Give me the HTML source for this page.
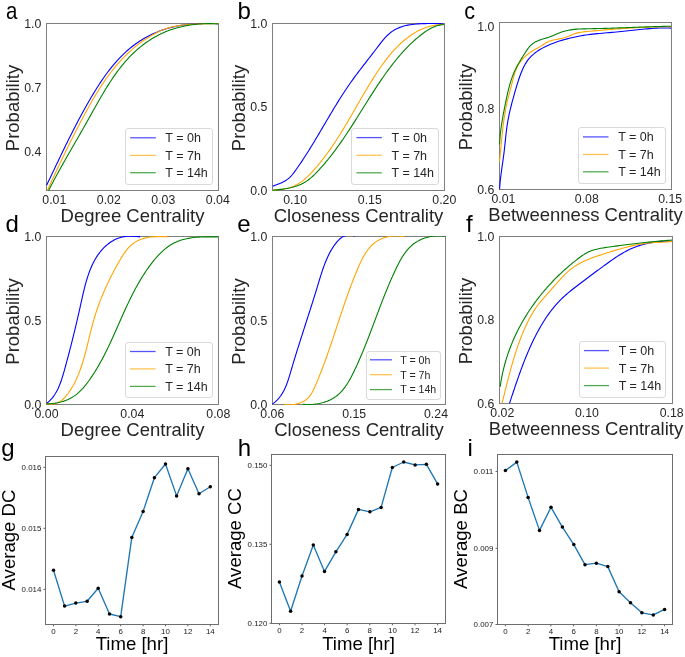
<!DOCTYPE html>
<html><head><meta charset="utf-8"><style>html,body{margin:0;padding:0;background:#fff;width:685px;height:657px;overflow:hidden}</style></head>
<body>
<svg width="685" height="657" viewBox="0 0 685 657" style="display:block;will-change:transform">
<rect width="685" height="657" fill="#ffffff"/>
<g font-family='"Liberation Sans", sans-serif'>
<rect x="46.5" y="23.5" width="172" height="167" fill="none" stroke="#7f7f7f" stroke-width="1"/>
<rect x="272.5" y="23.5" width="172" height="167" fill="none" stroke="#7f7f7f" stroke-width="1"/>
<rect x="499.5" y="22.5" width="172" height="167" fill="none" stroke="#7f7f7f" stroke-width="1"/>
<rect x="46.5" y="236.5" width="172" height="168" fill="none" stroke="#7f7f7f" stroke-width="1"/>
<rect x="272.5" y="236.5" width="173" height="168" fill="none" stroke="#7f7f7f" stroke-width="1"/>
<rect x="499.5" y="236.5" width="173" height="167" fill="none" stroke="#7f7f7f" stroke-width="1"/>
<clipPath id="clipa"><rect x="46" y="23" width="173" height="168"/></clipPath>
<clipPath id="clipb"><rect x="272" y="23" width="173" height="168"/></clipPath>
<clipPath id="clipc"><rect x="499" y="22" width="173" height="168"/></clipPath>
<clipPath id="clipd"><rect x="46" y="236" width="173" height="169"/></clipPath>
<clipPath id="clipe"><rect x="272" y="236" width="174" height="169"/></clipPath>
<clipPath id="clipf"><rect x="499" y="236" width="174" height="168"/></clipPath>
<g clip-path="url(#clipa)" fill="none" stroke-width="1.1" stroke-linejoin="round">
<path d="M46.63,185.27 L47.56,183.32 L48.49,181.36 L49.42,179.41 L50.35,177.46 L51.27,175.51 L52.20,173.56 L53.12,171.62 L54.04,169.68 L54.96,167.74 L55.89,165.80 L56.81,163.86 L57.73,161.93 L58.65,159.99 L59.58,158.06 L60.50,156.13 L61.43,154.21 L62.36,152.28 L63.29,150.36 L64.22,148.44 L65.16,146.52 L66.09,144.60 L67.04,142.69 L67.98,140.77 L68.93,138.86 L69.88,136.95 L70.84,135.04 L71.80,133.14 L72.76,131.24 L73.73,129.33 L74.71,127.44 L75.69,125.54 L76.67,123.64 L77.66,121.75 L78.66,119.86 L79.67,117.97 L80.68,116.08 L81.70,114.20 L82.72,112.32 L83.75,110.44 L84.79,108.56 L85.84,106.68 L86.90,104.81 L87.96,102.94 L89.04,101.07 L90.12,99.20 L91.21,97.33 L92.32,95.47 L93.43,93.61 L94.55,91.76 L95.69,89.92 L96.84,88.08 L98.00,86.25 L99.17,84.43 L100.36,82.62 L101.57,80.82 L102.78,79.03 L104.02,77.26 L105.27,75.50 L106.54,73.75 L107.82,72.02 L109.12,70.31 L110.45,68.62 L111.79,66.94 L113.15,65.29 L114.53,63.65 L115.93,62.04 L117.35,60.45 L118.80,58.88 L120.27,57.34 L121.76,55.82 L123.27,54.33 L124.81,52.86 L126.38,51.43 L127.97,50.02 L129.58,48.64 L131.22,47.30 L132.89,45.99 L134.59,44.71 L136.32,43.46 L138.07,42.25 L139.84,41.07 L141.65,39.93 L143.47,38.82 L145.32,37.75 L147.19,36.72 L149.09,35.73 L151.00,34.77 L152.94,33.86 L154.89,32.98 L156.86,32.14 L158.85,31.34 L160.85,30.59 L162.87,29.87 L164.90,29.20 L166.95,28.57 L169.01,27.98 L171.09,27.43 L173.17,26.93 L175.26,26.46 L177.37,26.03 L179.48,25.64 L181.60,25.28 L183.73,24.96 L185.86,24.67 L188.00,24.42 L190.14,24.20 L192.28,24.01 L194.43,23.84 L196.58,23.71 L198.73,23.60 L200.88,23.53 L203.03,23.47 L205.18,23.44 L207.32,23.44 L209.47,23.45 L211.60,23.49 L213.73,23.55 L215.86,23.63 L217.98,23.72" stroke="#0000ff"/>
<path d="M47.52,190.25 L48.42,188.26 L49.32,186.28 L50.22,184.30 L51.12,182.32 L52.03,180.34 L52.94,178.37 L53.85,176.40 L54.76,174.43 L55.67,172.47 L56.59,170.50 L57.51,168.55 L58.43,166.59 L59.35,164.64 L60.27,162.69 L61.20,160.74 L62.13,158.79 L63.07,156.84 L64.01,154.90 L64.95,152.96 L65.89,151.02 L66.84,149.08 L67.79,147.15 L68.75,145.21 L69.70,143.28 L70.67,141.35 L71.63,139.42 L72.60,137.49 L73.58,135.56 L74.56,133.63 L75.54,131.71 L76.53,129.78 L77.52,127.86 L78.52,125.93 L79.52,124.01 L80.53,122.08 L81.54,120.16 L82.56,118.24 L83.58,116.31 L84.61,114.39 L85.64,112.47 L86.69,110.56 L87.74,108.64 L88.79,106.73 L89.86,104.83 L90.94,102.93 L92.02,101.04 L93.12,99.15 L94.23,97.27 L95.35,95.39 L96.48,93.53 L97.62,91.67 L98.77,89.82 L99.94,87.99 L101.12,86.16 L102.32,84.34 L103.53,82.54 L104.75,80.75 L105.99,78.97 L107.25,77.20 L108.52,75.45 L109.81,73.72 L111.12,72.00 L112.45,70.29 L113.79,68.60 L115.16,66.93 L116.54,65.28 L117.94,63.64 L119.37,62.03 L120.82,60.43 L122.28,58.85 L123.77,57.30 L125.28,55.77 L126.82,54.25 L128.38,52.77 L129.96,51.30 L131.57,49.86 L133.20,48.44 L134.86,47.06 L136.54,45.69 L138.24,44.36 L139.98,43.06 L141.73,41.79 L143.52,40.55 L145.33,39.35 L147.16,38.18 L149.01,37.03 L150.87,35.90 L152.75,34.80 L154.64,33.74 L156.54,32.71 L158.47,31.75 L160.43,30.84 L162.40,30.00 L164.41,29.23 L166.43,28.52 L168.48,27.89 L170.54,27.31 L172.63,26.79 L174.73,26.34 L176.85,25.93 L178.98,25.57 L181.13,25.26 L183.28,24.99 L185.45,24.76 L187.62,24.56 L189.80,24.40 L191.98,24.26 L194.17,24.15 L196.36,24.05 L198.54,23.98 L200.73,23.91 L202.91,23.86 L205.09,23.81 L207.26,23.77 L209.42,23.72 L211.58,23.67 L213.72,23.61 L215.85,23.54 L217.96,23.46" stroke="#ffa500"/>
<path d="M48.52,190.57 L49.51,188.64 L50.51,186.71 L51.52,184.80 L52.52,182.89 L53.54,180.99 L54.55,179.09 L55.57,177.20 L56.59,175.32 L57.62,173.45 L58.65,171.58 L59.68,169.71 L60.72,167.85 L61.75,165.99 L62.79,164.14 L63.84,162.29 L64.88,160.45 L65.93,158.60 L66.97,156.76 L68.02,154.92 L69.07,153.09 L70.13,151.25 L71.18,149.41 L72.23,147.58 L73.29,145.75 L74.35,143.91 L75.40,142.08 L76.46,140.24 L77.52,138.40 L78.57,136.56 L79.63,134.72 L80.69,132.88 L81.74,131.03 L82.80,129.18 L83.85,127.33 L84.91,125.47 L85.96,123.61 L87.01,121.75 L88.06,119.88 L89.11,118.00 L90.16,116.12 L91.21,114.24 L92.26,112.35 L93.31,110.47 L94.37,108.58 L95.42,106.69 L96.48,104.80 L97.55,102.92 L98.62,101.03 L99.70,99.15 L100.78,97.28 L101.87,95.41 L102.97,93.54 L104.08,91.68 L105.20,89.83 L106.33,87.99 L107.47,86.16 L108.62,84.34 L109.78,82.53 L110.96,80.73 L112.16,78.94 L113.36,77.16 L114.59,75.41 L115.83,73.66 L117.08,71.93 L118.36,70.22 L119.65,68.53 L120.97,66.85 L122.30,65.20 L123.65,63.56 L125.03,61.95 L126.43,60.36 L127.85,58.79 L129.29,57.24 L130.76,55.72 L132.26,54.22 L133.78,52.75 L135.32,51.31 L136.90,49.90 L138.50,48.51 L140.12,47.15 L141.77,45.83 L143.45,44.54 L145.15,43.27 L146.88,42.05 L148.63,40.86 L150.40,39.70 L152.20,38.58 L154.02,37.49 L155.86,36.45 L157.73,35.44 L159.62,34.48 L161.53,33.55 L163.46,32.67 L165.41,31.83 L167.39,31.04 L169.38,30.29 L171.39,29.58 L173.43,28.92 L175.47,28.29 L177.54,27.71 L179.61,27.17 L181.70,26.67 L183.81,26.21 L185.92,25.79 L188.04,25.41 L190.17,25.07 L192.31,24.76 L194.46,24.49 L196.61,24.26 L198.76,24.07 L200.92,23.91 L203.07,23.79 L205.23,23.70 L207.39,23.65 L209.54,23.63 L211.69,23.64 L213.84,23.68 L215.98,23.76 L218.11,23.87" stroke="#008000"/>
</g>
<g clip-path="url(#clipb)" fill="none" stroke-width="1.1" stroke-linejoin="round">
<path d="M272.67,186.27 L274.49,185.50 L276.44,184.75 L278.45,183.97 L280.50,183.16 L282.52,182.27 L284.48,181.28 L286.32,180.17 L288.01,178.92 L289.58,177.55 L291.04,176.07 L292.41,174.50 L293.72,172.87 L294.97,171.19 L296.19,169.49 L297.40,167.77 L298.60,166.05 L299.79,164.31 L300.97,162.57 L302.14,160.82 L303.30,159.07 L304.46,157.30 L305.60,155.53 L306.74,153.75 L307.86,151.97 L308.99,150.18 L310.10,148.38 L311.21,146.58 L312.32,144.78 L313.42,142.97 L314.51,141.16 L315.60,139.34 L316.69,137.52 L317.78,135.70 L318.86,133.88 L319.94,132.05 L321.02,130.23 L322.09,128.40 L323.17,126.57 L324.25,124.74 L325.32,122.91 L326.40,121.08 L327.48,119.26 L328.56,117.43 L329.64,115.61 L330.72,113.78 L331.81,111.96 L332.90,110.15 L334.00,108.33 L335.09,106.52 L336.20,104.71 L337.31,102.91 L338.42,101.12 L339.54,99.32 L340.67,97.54 L341.80,95.76 L342.94,93.98 L344.09,92.21 L345.25,90.45 L346.42,88.70 L347.60,86.95 L348.78,85.22 L349.98,83.49 L351.19,81.77 L352.41,80.06 L353.64,78.36 L354.88,76.66 L356.13,74.98 L357.39,73.30 L358.66,71.63 L359.94,69.96 L361.23,68.29 L362.52,66.63 L363.81,64.96 L365.11,63.30 L366.41,61.63 L367.72,59.95 L369.02,58.28 L370.33,56.59 L371.64,54.90 L372.94,53.20 L374.25,51.49 L375.55,49.77 L376.85,48.04 L378.15,46.31 L379.46,44.59 L380.79,42.88 L382.13,41.21 L383.50,39.57 L384.91,37.98 L386.35,36.45 L387.83,34.99 L389.36,33.60 L390.95,32.30 L392.60,31.10 L394.31,30.01 L396.09,29.03 L397.93,28.15 L399.83,27.37 L401.78,26.68 L403.78,26.08 L405.83,25.56 L407.90,25.12 L410.01,24.74 L412.15,24.43 L414.31,24.18 L416.48,23.98 L418.67,23.83 L420.86,23.72 L423.06,23.64 L425.25,23.59 L427.43,23.57 L429.59,23.56 L431.74,23.56 L433.87,23.57 L435.96,23.58 L438.02,23.58 L440.04,23.57 L442.02,23.55 L443.94,23.50" stroke="#0000ff"/>
<path d="M272.60,190.29 L274.60,190.05 L276.65,189.82 L278.75,189.60 L280.88,189.36 L283.03,189.08 L285.16,188.74 L287.28,188.32 L289.35,187.80 L291.36,187.16 L293.31,186.41 L295.20,185.55 L297.03,184.59 L298.81,183.53 L300.54,182.39 L302.22,181.16 L303.86,179.87 L305.46,178.51 L307.02,177.10 L308.54,175.64 L310.04,174.13 L311.50,172.60 L312.94,171.03 L314.36,169.46 L315.75,167.86 L317.13,166.26 L318.49,164.64 L319.82,163.02 L321.14,161.38 L322.44,159.73 L323.73,158.07 L325.00,156.41 L326.25,154.73 L327.49,153.04 L328.71,151.34 L329.92,149.64 L331.12,147.92 L332.30,146.20 L333.47,144.47 L334.63,142.73 L335.78,140.99 L336.92,139.24 L338.05,137.48 L339.17,135.71 L340.28,133.94 L341.38,132.17 L342.47,130.39 L343.56,128.60 L344.64,126.81 L345.72,125.01 L346.79,123.22 L347.85,121.41 L348.91,119.61 L349.97,117.80 L351.02,115.98 L352.08,114.17 L353.13,112.35 L354.18,110.53 L355.23,108.71 L356.27,106.89 L357.32,105.07 L358.37,103.25 L359.43,101.42 L360.48,99.60 L361.54,97.78 L362.60,95.95 L363.67,94.13 L364.74,92.31 L365.81,90.50 L366.89,88.68 L367.98,86.86 L369.07,85.05 L370.18,83.24 L371.29,81.44 L372.41,79.64 L373.53,77.84 L374.67,76.05 L375.82,74.26 L376.98,72.48 L378.16,70.71 L379.35,68.95 L380.55,67.21 L381.77,65.47 L383.00,63.75 L384.25,62.05 L385.52,60.36 L386.81,58.69 L388.11,57.04 L389.44,55.41 L390.79,53.80 L392.16,52.22 L393.55,50.66 L394.97,49.13 L396.41,47.62 L397.87,46.14 L399.36,44.69 L400.88,43.27 L402.43,41.89 L404.01,40.54 L405.61,39.22 L407.25,37.94 L408.91,36.69 L410.61,35.49 L412.34,34.32 L414.11,33.20 L415.90,32.12 L417.73,31.10 L419.60,30.14 L421.50,29.24 L423.43,28.42 L425.39,27.67 L427.39,27.01 L429.42,26.43 L431.48,25.96 L433.57,25.56 L435.67,25.23 L437.78,24.94 L439.88,24.65 L441.97,24.36 L444.04,24.03" stroke="#ffa500"/>
<path d="M272.56,190.27 L274.59,190.07 L276.64,189.85 L278.72,189.63 L280.82,189.37 L282.92,189.10 L285.02,188.78 L287.12,188.42 L289.21,188.02 L291.28,187.56 L293.33,187.04 L295.35,186.45 L297.34,185.79 L299.28,185.05 L301.18,184.22 L303.02,183.29 L304.80,182.27 L306.53,181.16 L308.21,179.96 L309.84,178.70 L311.43,177.36 L312.97,175.98 L314.49,174.54 L315.97,173.06 L317.42,171.56 L318.85,170.03 L320.26,168.48 L321.66,166.93 L323.04,165.36 L324.40,163.78 L325.74,162.19 L327.07,160.59 L328.39,158.98 L329.69,157.36 L330.98,155.73 L332.25,154.09 L333.51,152.44 L334.76,150.78 L335.99,149.12 L337.22,147.44 L338.43,145.76 L339.64,144.07 L340.83,142.38 L342.01,140.67 L343.19,138.96 L344.35,137.25 L345.51,135.53 L346.67,133.80 L347.81,132.07 L348.95,130.33 L350.08,128.59 L351.21,126.85 L352.33,125.10 L353.45,123.35 L354.57,121.59 L355.68,119.84 L356.79,118.08 L357.90,116.32 L359.00,114.55 L360.11,112.79 L361.21,111.02 L362.31,109.25 L363.42,107.49 L364.52,105.72 L365.63,103.95 L366.74,102.18 L367.85,100.42 L368.96,98.65 L370.08,96.89 L371.20,95.13 L372.33,93.37 L373.46,91.61 L374.59,89.86 L375.73,88.11 L376.88,86.36 L378.04,84.62 L379.20,82.88 L380.37,81.14 L381.55,79.41 L382.74,77.69 L383.94,75.97 L385.15,74.26 L386.37,72.55 L387.60,70.86 L388.84,69.17 L390.09,67.49 L391.36,65.82 L392.64,64.17 L393.93,62.52 L395.23,60.89 L396.55,59.27 L397.88,57.67 L399.23,56.08 L400.59,54.50 L401.97,52.94 L403.37,51.40 L404.78,49.88 L406.20,48.37 L407.65,46.89 L409.11,45.42 L410.59,43.98 L412.09,42.55 L413.61,41.15 L415.15,39.77 L416.71,38.41 L418.29,37.08 L419.89,35.77 L421.51,34.49 L423.16,33.23 L424.83,32.02 L426.53,30.86 L428.28,29.76 L430.06,28.73 L431.89,27.79 L433.77,26.94 L435.70,26.20 L437.70,25.58 L439.76,25.09 L441.88,24.73 L444.09,24.53" stroke="#008000"/>
</g>
<g clip-path="url(#clipc)" fill="none" stroke-width="1.1" stroke-linejoin="round">
<path d="M499.59,189.30 L499.74,186.92 L499.92,184.54 L500.14,182.16 L500.38,179.79 L500.65,177.43 L500.94,175.07 L501.25,172.71 L501.56,170.35 L501.89,168.00 L502.23,165.64 L502.57,163.29 L502.90,160.93 L503.23,158.57 L503.55,156.21 L503.86,153.85 L504.16,151.48 L504.43,149.11 L504.69,146.74 L504.94,144.36 L505.19,141.98 L505.44,139.61 L505.69,137.23 L505.94,134.86 L506.21,132.48 L506.50,130.12 L506.81,127.76 L507.14,125.40 L507.51,123.05 L507.91,120.71 L508.34,118.38 L508.80,116.05 L509.29,113.73 L509.81,111.42 L510.35,109.11 L510.92,106.81 L511.50,104.50 L512.10,102.21 L512.72,99.91 L513.35,97.61 L513.99,95.32 L514.64,93.02 L515.30,90.72 L515.97,88.43 L516.64,86.13 L517.34,83.83 L518.06,81.54 L518.80,79.26 L519.58,76.99 L520.40,74.72 L521.27,72.47 L522.19,70.24 L523.17,68.06 L524.24,65.92 L525.39,63.84 L526.63,61.84 L527.98,59.93 L529.45,58.12 L531.04,56.42 L532.74,54.81 L534.54,53.31 L536.42,51.89 L538.38,50.56 L540.41,49.30 L542.50,48.12 L544.63,47.02 L546.79,45.97 L548.98,44.99 L551.19,44.06 L553.42,43.18 L555.66,42.35 L557.92,41.57 L560.20,40.84 L562.48,40.15 L564.78,39.49 L567.08,38.87 L569.39,38.29 L571.70,37.73 L574.02,37.21 L576.34,36.71 L578.66,36.24 L580.99,35.81 L583.32,35.41 L585.66,35.04 L588.00,34.70 L590.36,34.40 L592.72,34.12 L595.08,33.88 L597.45,33.65 L599.83,33.43 L602.20,33.23 L604.58,33.03 L606.95,32.82 L609.32,32.62 L611.70,32.40 L614.07,32.19 L616.44,31.97 L618.81,31.74 L621.17,31.51 L623.54,31.28 L625.91,31.04 L628.28,30.80 L630.64,30.55 L633.01,30.30 L635.38,30.04 L637.75,29.79 L640.11,29.54 L642.48,29.29 L644.85,29.05 L647.22,28.83 L649.59,28.63 L651.96,28.44 L654.34,28.28 L656.71,28.15 L659.09,28.05 L661.47,27.99 L663.85,27.96 L666.23,27.98 L668.61,28.05 L671.00,28.16" stroke="#0000ff"/>
<path d="M499.50,161.49 L499.73,159.32 L499.96,157.15 L500.18,154.97 L500.40,152.79 L500.61,150.60 L500.82,148.41 L501.02,146.22 L501.23,144.02 L501.44,141.82 L501.65,139.62 L501.87,137.42 L502.09,135.22 L502.32,133.02 L502.56,130.83 L502.80,128.63 L503.06,126.43 L503.33,124.24 L503.62,122.05 L503.92,119.87 L504.23,117.68 L504.57,115.51 L504.92,113.34 L505.29,111.17 L505.69,109.01 L506.11,106.86 L506.55,104.72 L507.02,102.58 L507.52,100.45 L508.04,98.33 L508.58,96.21 L509.13,94.09 L509.70,91.98 L510.26,89.85 L510.83,87.72 L511.39,85.57 L511.95,83.41 L512.49,81.24 L513.04,79.07 L513.62,76.91 L514.23,74.76 L514.91,72.64 L515.65,70.57 L516.48,68.54 L517.41,66.56 L518.46,64.66 L519.62,62.83 L520.90,61.08 L522.29,59.40 L523.77,57.80 L525.33,56.27 L526.98,54.83 L528.71,53.46 L530.50,52.17 L532.35,50.96 L534.25,49.83 L536.19,48.76 L538.13,47.71 L540.06,46.64 L541.95,45.52 L543.79,44.30 L545.61,43.09 L547.47,42.01 L549.43,41.15 L551.48,40.48 L553.58,39.95 L555.73,39.51 L557.90,39.12 L560.07,38.72 L562.24,38.28 L564.37,37.73 L566.46,37.05 L568.51,36.25 L570.54,35.40 L572.57,34.56 L574.62,33.79 L576.70,33.14 L578.83,32.64 L580.98,32.24 L583.15,31.92 L585.34,31.66 L587.54,31.44 L589.74,31.23 L591.93,31.03 L594.13,30.83 L596.33,30.63 L598.52,30.43 L600.72,30.24 L602.91,30.05 L605.10,29.87 L607.29,29.69 L609.49,29.51 L611.68,29.34 L613.87,29.17 L616.06,29.01 L618.25,28.85 L620.44,28.70 L622.63,28.55 L624.82,28.40 L627.02,28.26 L629.21,28.13 L631.40,28.00 L633.59,27.87 L635.79,27.75 L637.98,27.64 L640.17,27.53 L642.37,27.43 L644.56,27.33 L646.76,27.24 L648.96,27.15 L651.16,27.07 L653.36,27.00 L655.56,26.93 L657.76,26.87 L659.97,26.82 L662.17,26.77 L664.38,26.73 L666.59,26.69 L668.80,26.67 L671.01,26.64" stroke="#ffa500"/>
<path d="M499.55,144.53 L499.66,142.40 L499.79,140.29 L499.95,138.18 L500.13,136.08 L500.34,133.99 L500.57,131.91 L500.83,129.84 L501.10,127.77 L501.39,125.71 L501.70,123.65 L502.03,121.59 L502.37,119.54 L502.73,117.49 L503.10,115.44 L503.48,113.39 L503.87,111.33 L504.27,109.28 L504.67,107.23 L505.08,105.17 L505.50,103.10 L505.92,101.04 L506.35,98.97 L506.79,96.90 L507.24,94.83 L507.70,92.77 L508.19,90.71 L508.70,88.66 L509.23,86.62 L509.79,84.59 L510.38,82.57 L511.00,80.57 L511.66,78.59 L512.36,76.62 L513.10,74.68 L513.88,72.76 L514.72,70.86 L515.60,68.99 L516.54,67.15 L517.52,65.33 L518.54,63.52 L519.59,61.72 L520.68,59.93 L521.78,58.13 L522.90,56.33 L524.04,54.52 L525.19,52.70 L526.37,50.90 L527.59,49.14 L528.88,47.47 L530.25,45.90 L531.72,44.46 L533.31,43.19 L535.03,42.11 L536.86,41.18 L538.77,40.39 L540.73,39.70 L542.73,39.08 L544.74,38.49 L546.74,37.88 L548.72,37.20 L550.69,36.46 L552.65,35.69 L554.60,34.89 L556.54,34.08 L558.49,33.30 L560.45,32.55 L562.41,31.85 L564.40,31.22 L566.40,30.68 L568.42,30.24 L570.47,29.87 L572.52,29.58 L574.59,29.35 L576.68,29.17 L578.77,29.04 L580.87,28.95 L582.98,28.88 L585.09,28.83 L587.20,28.79 L589.30,28.75 L591.41,28.71 L593.52,28.67 L595.62,28.62 L597.72,28.57 L599.82,28.51 L601.92,28.45 L604.02,28.39 L606.11,28.33 L608.21,28.26 L610.30,28.19 L612.39,28.13 L614.48,28.05 L616.57,27.98 L618.66,27.91 L620.75,27.83 L622.84,27.76 L624.93,27.68 L627.02,27.60 L629.11,27.53 L631.19,27.45 L633.28,27.37 L635.37,27.29 L637.46,27.22 L639.55,27.14 L641.64,27.07 L643.73,26.99 L645.82,26.92 L647.91,26.85 L650.01,26.78 L652.10,26.72 L654.20,26.65 L656.29,26.59 L658.39,26.53 L660.49,26.47 L662.59,26.42 L664.69,26.37 L666.80,26.32 L668.91,26.27 L671.01,26.23" stroke="#008000"/>
</g>
<g clip-path="url(#clipd)" fill="none" stroke-width="1.1" stroke-linejoin="round">
<path d="M46.33,403.65 L47.73,402.55 L49.06,401.38 L50.30,400.16 L51.48,398.89 L52.58,397.57 L53.63,396.20 L54.61,394.79 L55.53,393.33 L56.40,391.84 L57.22,390.32 L57.99,388.76 L58.71,387.17 L59.40,385.56 L60.05,383.92 L60.67,382.27 L61.26,380.59 L61.82,378.91 L62.35,377.21 L62.87,375.50 L63.37,373.79 L63.87,372.08 L64.35,370.37 L64.82,368.66 L65.29,366.96 L65.76,365.26 L66.22,363.57 L66.68,361.88 L67.14,360.20 L67.59,358.51 L68.04,356.84 L68.48,355.16 L68.92,353.49 L69.36,351.81 L69.79,350.14 L70.23,348.48 L70.65,346.81 L71.08,345.14 L71.50,343.48 L71.92,341.81 L72.34,340.15 L72.75,338.48 L73.16,336.82 L73.57,335.15 L73.98,333.48 L74.39,331.81 L74.79,330.14 L75.19,328.47 L75.59,326.79 L75.99,325.11 L76.39,323.43 L76.78,321.75 L77.17,320.06 L77.57,318.36 L77.96,316.67 L78.35,314.97 L78.74,313.26 L79.12,311.55 L79.51,309.83 L79.90,308.11 L80.28,306.38 L80.67,304.65 L81.05,302.91 L81.44,301.16 L81.83,299.41 L82.22,297.65 L82.62,295.90 L83.02,294.14 L83.43,292.38 L83.85,290.63 L84.27,288.88 L84.71,287.13 L85.17,285.38 L85.63,283.65 L86.11,281.92 L86.61,280.20 L87.13,278.49 L87.66,276.80 L88.22,275.11 L88.80,273.44 L89.40,271.79 L90.02,270.15 L90.68,268.53 L91.35,266.93 L92.06,265.34 L92.80,263.78 L93.57,262.25 L94.37,260.73 L95.20,259.25 L96.07,257.78 L96.98,256.35 L97.92,254.94 L98.91,253.57 L99.93,252.23 L100.99,250.91 L102.10,249.64 L103.26,248.39 L104.45,247.19 L105.70,246.02 L106.99,244.89 L108.33,243.81 L109.71,242.79 L111.13,241.82 L112.59,240.91 L114.10,240.06 L115.64,239.29 L117.23,238.59 L118.85,237.97 L120.50,237.43 L122.19,236.98 L123.92,236.63 L125.68,236.38 L127.47,236.22 L129.28,236.16 L131.10,236.17 L132.93,236.25 L134.76,236.36 L136.57,236.51 L138.36,236.67 L140.12,236.84" stroke="#0000ff"/>
<path d="M46.19,403.48 L48.50,403.92 L50.68,404.11 L52.74,404.05 L54.68,403.76 L56.50,403.26 L58.22,402.57 L59.82,401.70 L61.33,400.68 L62.75,399.52 L64.08,398.25 L65.34,396.89 L66.54,395.45 L67.68,393.97 L68.78,392.46 L69.84,390.92 L70.86,389.36 L71.84,387.78 L72.79,386.17 L73.69,384.55 L74.57,382.90 L75.41,381.23 L76.22,379.55 L76.99,377.84 L77.74,376.12 L78.47,374.39 L79.16,372.63 L79.83,370.87 L80.48,369.09 L81.11,367.29 L81.71,365.49 L82.30,363.67 L82.86,361.84 L83.42,360.00 L83.95,358.16 L84.47,356.30 L84.98,354.44 L85.48,352.58 L85.97,350.70 L86.45,348.83 L86.92,346.95 L87.39,345.06 L87.85,343.18 L88.31,341.29 L88.77,339.40 L89.22,337.51 L89.68,335.63 L90.14,333.74 L90.61,331.86 L91.08,329.98 L91.56,328.11 L92.04,326.24 L92.54,324.38 L93.04,322.53 L93.56,320.68 L94.09,318.84 L94.63,317.01 L95.19,315.19 L95.76,313.38 L96.35,311.58 L96.95,309.78 L97.56,308.00 L98.19,306.22 L98.83,304.44 L99.49,302.68 L100.16,300.92 L100.84,299.17 L101.53,297.42 L102.24,295.68 L102.96,293.94 L103.70,292.21 L104.44,290.49 L105.20,288.77 L105.98,287.05 L106.76,285.34 L107.56,283.63 L108.37,281.93 L109.20,280.23 L110.03,278.53 L110.88,276.84 L111.74,275.14 L112.61,273.45 L113.50,271.77 L114.40,270.08 L115.31,268.40 L116.23,266.71 L117.16,265.03 L118.10,263.35 L119.06,261.67 L120.03,259.99 L121.01,258.31 L122.01,256.65 L123.04,255.01 L124.11,253.40 L125.20,251.83 L126.35,250.30 L127.54,248.83 L128.78,247.43 L130.08,246.10 L131.45,244.84 L132.89,243.68 L134.40,242.61 L135.99,241.64 L137.63,240.75 L139.33,239.96 L141.08,239.26 L142.88,238.65 L144.72,238.12 L146.60,237.68 L148.50,237.33 L150.42,237.06 L152.37,236.85 L154.32,236.71 L156.27,236.62 L158.21,236.58 L160.15,236.57 L162.06,236.58 L163.95,236.61 L165.80,236.65 L167.61,236.69" stroke="#ffa500"/>
<path d="M46.38,403.82 L48.58,403.77 L50.80,403.64 L53.02,403.43 L55.25,403.14 L57.46,402.76 L59.66,402.30 L61.83,401.74 L63.96,401.10 L66.04,400.36 L68.07,399.52 L70.03,398.57 L71.93,397.53 L73.74,396.39 L75.49,395.15 L77.17,393.82 L78.78,392.42 L80.34,390.94 L81.85,389.40 L83.30,387.80 L84.71,386.15 L86.07,384.46 L87.40,382.73 L88.70,380.98 L89.96,379.20 L91.20,377.41 L92.41,375.61 L93.60,373.79 L94.77,371.95 L95.91,370.11 L97.03,368.25 L98.14,366.38 L99.22,364.50 L100.28,362.60 L101.33,360.70 L102.36,358.79 L103.37,356.87 L104.37,354.93 L105.36,353.00 L106.33,351.05 L107.29,349.10 L108.23,347.13 L109.17,345.17 L110.10,343.20 L111.02,341.22 L111.93,339.24 L112.83,337.25 L113.73,335.26 L114.63,333.27 L115.51,331.27 L116.40,329.27 L117.29,327.28 L118.17,325.28 L119.05,323.28 L119.93,321.28 L120.82,319.28 L121.71,317.28 L122.60,315.28 L123.49,313.29 L124.39,311.30 L125.30,309.31 L126.21,307.32 L127.13,305.34 L128.06,303.37 L128.99,301.40 L129.94,299.44 L130.90,297.48 L131.88,295.53 L132.86,293.58 L133.86,291.65 L134.88,289.72 L135.91,287.80 L136.96,285.89 L138.02,283.99 L139.11,282.11 L140.21,280.23 L141.34,278.36 L142.49,276.51 L143.65,274.67 L144.85,272.84 L146.06,271.03 L147.31,269.23 L148.57,267.44 L149.87,265.68 L151.19,263.92 L152.54,262.18 L153.92,260.46 L155.34,258.77 L156.78,257.11 L158.26,255.48 L159.78,253.89 L161.33,252.35 L162.92,250.86 L164.55,249.43 L166.22,248.06 L167.94,246.77 L169.70,245.55 L171.50,244.40 L173.36,243.35 L175.26,242.39 L177.21,241.52 L179.21,240.75 L181.25,240.06 L183.32,239.46 L185.44,238.94 L187.58,238.49 L189.74,238.11 L191.93,237.79 L194.13,237.53 L196.35,237.32 L198.57,237.16 L200.80,237.03 L203.02,236.95 L205.24,236.89 L207.45,236.86 L209.65,236.84 L211.83,236.85 L213.99,236.86 L216.12,236.87 L218.21,236.89" stroke="#008000"/>
</g>
<g clip-path="url(#clipe)" fill="none" stroke-width="1.1" stroke-linejoin="round">
<path d="M272.27,404.17 L273.67,403.15 L274.99,402.07 L276.23,400.94 L277.40,399.77 L278.51,398.55 L279.55,397.29 L280.53,395.99 L281.45,394.65 L282.32,393.28 L283.14,391.87 L283.91,390.44 L284.63,388.97 L285.32,387.48 L285.97,385.97 L286.58,384.44 L287.17,382.89 L287.73,381.32 L288.26,379.74 L288.78,378.15 L289.28,376.55 L289.77,374.94 L290.25,373.33 L290.72,371.72 L291.19,370.11 L291.67,368.50 L292.14,366.90 L292.62,365.30 L293.09,363.70 L293.57,362.11 L294.05,360.52 L294.54,358.93 L295.02,357.34 L295.51,355.76 L295.99,354.18 L296.48,352.60 L296.97,351.03 L297.46,349.45 L297.96,347.88 L298.45,346.31 L298.94,344.75 L299.44,343.18 L299.94,341.61 L300.43,340.05 L300.93,338.49 L301.43,336.93 L301.93,335.37 L302.43,333.81 L302.93,332.25 L303.43,330.69 L303.93,329.13 L304.43,327.57 L304.94,326.02 L305.44,324.46 L305.94,322.90 L306.44,321.34 L306.94,319.78 L307.45,318.22 L307.95,316.66 L308.45,315.10 L308.95,313.54 L309.45,311.97 L309.95,310.41 L310.45,308.84 L310.95,307.27 L311.45,305.71 L311.95,304.13 L312.45,302.56 L312.95,300.98 L313.45,299.41 L313.94,297.83 L314.44,296.24 L314.93,294.66 L315.42,293.07 L315.91,291.48 L316.40,289.88 L316.89,288.29 L317.38,286.69 L317.87,285.08 L318.35,283.47 L318.84,281.86 L319.32,280.25 L319.81,278.64 L320.31,277.03 L320.81,275.43 L321.32,273.82 L321.84,272.22 L322.36,270.63 L322.90,269.04 L323.45,267.46 L324.02,265.89 L324.60,264.32 L325.20,262.77 L325.82,261.24 L326.46,259.71 L327.12,258.20 L327.80,256.70 L328.50,255.22 L329.24,253.76 L329.99,252.32 L330.78,250.89 L331.60,249.49 L332.44,248.11 L333.32,246.75 L334.24,245.41 L335.19,244.10 L336.17,242.82 L337.20,241.58 L338.28,240.40 L339.41,239.29 L340.61,238.28 L341.87,237.37 L343.20,236.60 L344.61,235.96 L346.11,235.49 L347.69,235.20 L349.38,235.10 L351.17,235.22 L353.07,235.57 L355.08,236.16" stroke="#0000ff"/>
<path d="M284.41,404.33 L286.34,404.59 L288.30,404.74 L290.26,404.76 L292.23,404.66 L294.18,404.44 L296.11,404.09 L298.00,403.62 L299.84,403.03 L301.61,402.31 L303.31,401.47 L304.92,400.50 L306.43,399.41 L307.82,398.19 L309.09,396.85 L310.23,395.39 L311.28,393.84 L312.24,392.21 L313.12,390.51 L313.96,388.77 L314.75,387.00 L315.53,385.22 L316.29,383.44 L317.04,381.66 L317.78,379.88 L318.51,378.10 L319.23,376.32 L319.95,374.54 L320.65,372.76 L321.34,370.98 L322.03,369.20 L322.71,367.42 L323.38,365.64 L324.04,363.86 L324.70,362.08 L325.35,360.30 L326.00,358.51 L326.64,356.73 L327.27,354.95 L327.90,353.17 L328.52,351.39 L329.14,349.60 L329.75,347.82 L330.36,346.04 L330.97,344.25 L331.57,342.47 L332.17,340.69 L332.77,338.90 L333.37,337.12 L333.96,335.33 L334.55,333.55 L335.14,331.76 L335.73,329.98 L336.32,328.19 L336.91,326.40 L337.50,324.61 L338.09,322.83 L338.68,321.04 L339.27,319.25 L339.87,317.46 L340.46,315.67 L341.06,313.88 L341.66,312.09 L342.26,310.30 L342.87,308.51 L343.47,306.72 L344.09,304.92 L344.70,303.13 L345.32,301.34 L345.95,299.54 L346.58,297.75 L347.22,295.95 L347.86,294.15 L348.51,292.36 L349.16,290.56 L349.82,288.76 L350.49,286.96 L351.17,285.16 L351.85,283.36 L352.55,281.56 L353.25,279.76 L353.95,277.96 L354.67,276.15 L355.40,274.35 L356.14,272.54 L356.89,270.74 L357.64,268.93 L358.41,267.13 L359.20,265.33 L360.01,263.54 L360.83,261.77 L361.69,260.02 L362.57,258.30 L363.49,256.60 L364.44,254.95 L365.43,253.33 L366.46,251.75 L367.54,250.23 L368.67,248.76 L369.86,247.35 L371.09,246.00 L372.39,244.72 L373.76,243.52 L375.18,242.39 L376.68,241.35 L378.25,240.39 L379.89,239.53 L381.59,238.75 L383.35,238.07 L385.16,237.47 L387.00,236.97 L388.88,236.56 L390.79,236.25 L392.72,236.03 L394.66,235.91 L396.62,235.88 L398.57,235.95 L400.51,236.11 L402.44,236.38 L404.35,236.74" stroke="#ffa500"/>
<path d="M302.72,404.27 L304.73,404.41 L306.78,404.49 L308.84,404.50 L310.92,404.44 L313.01,404.30 L315.10,404.09 L317.18,403.80 L319.25,403.43 L321.29,402.98 L323.31,402.46 L325.29,401.85 L327.22,401.16 L329.10,400.38 L330.93,399.52 L332.68,398.58 L334.36,397.54 L335.97,396.42 L337.51,395.22 L338.97,393.94 L340.37,392.59 L341.71,391.17 L343.00,389.69 L344.22,388.15 L345.40,386.56 L346.53,384.93 L347.62,383.25 L348.67,381.53 L349.68,379.78 L350.67,378.00 L351.62,376.19 L352.55,374.37 L353.45,372.54 L354.34,370.69 L355.22,368.84 L356.08,366.99 L356.93,365.13 L357.77,363.28 L358.60,361.42 L359.42,359.56 L360.23,357.69 L361.02,355.83 L361.81,353.96 L362.60,352.09 L363.37,350.22 L364.13,348.35 L364.89,346.47 L365.64,344.60 L366.39,342.72 L367.13,340.84 L367.86,338.96 L368.59,337.08 L369.32,335.20 L370.04,333.32 L370.76,331.44 L371.47,329.55 L372.19,327.67 L372.90,325.78 L373.61,323.90 L374.32,322.01 L375.02,320.12 L375.73,318.24 L376.44,316.35 L377.15,314.47 L377.86,312.58 L378.57,310.69 L379.29,308.81 L380.00,306.92 L380.73,305.04 L381.45,303.16 L382.18,301.27 L382.91,299.39 L383.65,297.51 L384.39,295.63 L385.15,293.75 L385.90,291.87 L386.67,289.99 L387.44,288.11 L388.22,286.24 L389.00,284.37 L389.80,282.50 L390.61,280.63 L391.42,278.76 L392.25,276.89 L393.09,275.03 L393.94,273.17 L394.80,271.31 L395.67,269.45 L396.55,267.59 L397.46,265.75 L398.38,263.92 L399.33,262.10 L400.31,260.31 L401.32,258.55 L402.37,256.82 L403.45,255.13 L404.59,253.48 L405.76,251.88 L406.99,250.33 L408.28,248.84 L409.62,247.41 L411.03,246.05 L412.50,244.76 L414.04,243.55 L415.66,242.42 L417.35,241.37 L419.11,240.42 L420.94,239.55 L422.82,238.77 L424.75,238.07 L426.73,237.47 L428.73,236.96 L430.77,236.53 L432.83,236.20 L434.90,235.95 L436.97,235.80 L439.05,235.74 L441.11,235.77 L443.17,235.90 L445.20,236.12" stroke="#008000"/>
</g>
<g clip-path="url(#clipf)" fill="none" stroke-width="1.1" stroke-linejoin="round">
<path d="M509.51,403.25 L510.16,401.30 L510.82,399.35 L511.47,397.40 L512.12,395.44 L512.77,393.49 L513.43,391.53 L514.09,389.58 L514.75,387.62 L515.41,385.67 L516.07,383.71 L516.74,381.76 L517.42,379.81 L518.10,377.86 L518.79,375.91 L519.48,373.96 L520.18,372.02 L520.89,370.08 L521.60,368.14 L522.32,366.20 L523.06,364.27 L523.80,362.34 L524.55,360.42 L525.31,358.50 L526.09,356.58 L526.87,354.67 L527.67,352.77 L528.48,350.87 L529.31,348.98 L530.15,347.09 L531.00,345.21 L531.87,343.34 L532.75,341.47 L533.65,339.61 L534.57,337.76 L535.50,335.91 L536.45,334.08 L537.42,332.25 L538.41,330.43 L539.41,328.62 L540.44,326.83 L541.49,325.04 L542.56,323.26 L543.65,321.50 L544.76,319.76 L545.89,318.02 L547.05,316.31 L548.24,314.62 L549.44,312.94 L550.67,311.29 L551.93,309.66 L553.22,308.05 L554.53,306.46 L555.87,304.90 L557.23,303.37 L558.63,301.86 L560.05,300.39 L561.51,298.94 L562.99,297.52 L564.49,296.13 L566.03,294.77 L567.58,293.42 L569.15,292.10 L570.74,290.79 L572.35,289.50 L573.96,288.22 L575.59,286.95 L577.23,285.69 L578.87,284.44 L580.52,283.19 L582.17,281.94 L583.82,280.69 L585.47,279.45 L587.13,278.21 L588.78,276.97 L590.44,275.73 L592.10,274.49 L593.76,273.26 L595.42,272.02 L597.08,270.79 L598.75,269.57 L600.42,268.34 L602.09,267.12 L603.76,265.91 L605.44,264.69 L607.12,263.48 L608.80,262.27 L610.49,261.07 L612.18,259.88 L613.88,258.71 L615.59,257.55 L617.31,256.41 L619.04,255.30 L620.79,254.21 L622.55,253.16 L624.33,252.14 L626.13,251.16 L627.94,250.22 L629.78,249.33 L631.65,248.49 L633.53,247.70 L635.44,246.95 L637.37,246.26 L639.31,245.61 L641.28,245.00 L643.26,244.45 L645.26,243.93 L647.27,243.47 L649.29,243.05 L651.32,242.67 L653.37,242.33 L655.43,242.04 L657.49,241.80 L659.56,241.59 L661.64,241.42 L663.72,241.30 L665.81,241.22 L667.90,241.17 L669.99,241.17 L672.08,241.20" stroke="#0000ff"/>
<path d="M502.04,403.29 L502.57,401.16 L503.09,399.04 L503.62,396.91 L504.15,394.78 L504.68,392.65 L505.20,390.53 L505.73,388.40 L506.26,386.28 L506.80,384.16 L507.33,382.04 L507.88,379.93 L508.42,377.81 L508.98,375.70 L509.53,373.59 L510.10,371.48 L510.67,369.38 L511.26,367.27 L511.85,365.17 L512.45,363.08 L513.06,360.98 L513.68,358.89 L514.32,356.80 L514.97,354.72 L515.63,352.64 L516.30,350.56 L516.99,348.49 L517.70,346.42 L518.42,344.36 L519.16,342.30 L519.92,340.24 L520.69,338.19 L521.49,336.14 L522.30,334.10 L523.14,332.07 L524.00,330.05 L524.88,328.04 L525.78,326.04 L526.72,324.05 L527.67,322.08 L528.66,320.12 L529.67,318.18 L530.72,316.25 L531.79,314.34 L532.90,312.46 L534.05,310.61 L535.24,308.78 L536.47,307.00 L537.76,305.25 L539.08,303.53 L540.44,301.84 L541.83,300.18 L543.25,298.53 L544.69,296.89 L546.14,295.26 L547.61,293.64 L549.07,292.01 L550.54,290.38 L552.01,288.74 L553.46,287.08 L554.91,285.41 L556.36,283.74 L557.81,282.08 L559.28,280.43 L560.75,278.79 L562.24,277.18 L563.76,275.60 L565.30,274.05 L566.87,272.55 L568.48,271.10 L570.13,269.70 L571.82,268.37 L573.57,267.11 L575.36,265.91 L577.19,264.78 L579.07,263.72 L580.99,262.71 L582.94,261.75 L584.93,260.84 L586.94,259.97 L588.97,259.14 L591.02,258.34 L593.08,257.57 L595.16,256.83 L597.24,256.10 L599.32,255.39 L601.41,254.70 L603.49,254.01 L605.58,253.34 L607.67,252.67 L609.75,252.02 L611.85,251.38 L613.94,250.75 L616.03,250.12 L618.13,249.51 L620.23,248.91 L622.34,248.33 L624.44,247.75 L626.56,247.19 L628.67,246.64 L630.79,246.12 L632.92,245.63 L635.05,245.16 L637.19,244.72 L639.33,244.31 L641.48,243.94 L643.64,243.61 L645.80,243.32 L647.97,243.07 L650.15,242.87 L652.33,242.70 L654.52,242.56 L656.71,242.44 L658.90,242.33 L661.10,242.22 L663.29,242.11 L665.47,241.99 L667.66,241.85 L669.83,241.67 L672.01,241.47" stroke="#ffa500"/>
<path d="M500.21,386.65 L500.51,384.53 L500.84,382.42 L501.19,380.31 L501.56,378.21 L501.97,376.13 L502.39,374.04 L502.84,371.97 L503.32,369.91 L503.82,367.85 L504.35,365.80 L504.90,363.76 L505.47,361.73 L506.07,359.71 L506.69,357.69 L507.34,355.69 L508.01,353.69 L508.70,351.70 L509.41,349.73 L510.15,347.76 L510.91,345.80 L511.69,343.85 L512.49,341.91 L513.32,339.98 L514.17,338.06 L515.04,336.15 L515.93,334.25 L516.84,332.36 L517.77,330.48 L518.73,328.61 L519.70,326.76 L520.70,324.91 L521.71,323.07 L522.75,321.25 L523.80,319.43 L524.87,317.63 L525.97,315.84 L527.08,314.06 L528.21,312.29 L529.36,310.53 L530.53,308.78 L531.72,307.05 L532.93,305.33 L534.15,303.62 L535.39,301.92 L536.65,300.23 L537.93,298.56 L539.22,296.90 L540.54,295.25 L541.86,293.61 L543.21,291.99 L544.57,290.38 L545.95,288.79 L547.34,287.20 L548.75,285.63 L550.18,284.07 L551.62,282.53 L553.07,281.00 L554.55,279.48 L556.03,277.98 L557.53,276.49 L559.05,275.02 L560.58,273.56 L562.12,272.11 L563.68,270.68 L565.25,269.26 L566.84,267.86 L568.44,266.47 L570.05,265.11 L571.67,263.75 L573.31,262.42 L574.96,261.10 L576.62,259.81 L578.29,258.53 L579.97,257.28 L581.66,256.04 L583.37,254.84 L585.11,253.71 L586.91,252.68 L588.76,251.78 L590.66,250.99 L592.61,250.30 L594.60,249.70 L596.63,249.18 L598.69,248.73 L600.77,248.32 L602.86,247.96 L604.96,247.63 L607.07,247.32 L609.18,247.02 L611.29,246.72 L613.39,246.43 L615.49,246.14 L617.58,245.85 L619.68,245.57 L621.77,245.29 L623.86,245.02 L625.95,244.75 L628.04,244.49 L630.12,244.23 L632.21,243.97 L634.30,243.72 L636.38,243.48 L638.47,243.24 L640.55,243.00 L642.64,242.77 L644.73,242.55 L646.81,242.32 L648.90,242.11 L650.99,241.90 L653.08,241.69 L655.18,241.49 L657.27,241.29 L659.37,241.10 L661.47,240.92 L663.57,240.74 L665.68,240.56 L667.79,240.39 L669.90,240.22 L672.02,240.06" stroke="#008000"/>
</g>
<path d="M53.50,570.20 L64.60,606.10 L75.80,603.10 L87.10,601.30 L98.20,588.20 L109.50,614.00 L120.70,616.70 L131.80,537.40 L143.10,511.40 L154.40,477.70 L165.50,464.00 L176.60,495.90 L187.90,468.70 L199.00,493.80 L210.30,486.80" fill="none" stroke="#1f77b4" stroke-width="1.35" stroke-linejoin="round"/>
<circle cx="53.50" cy="570.20" r="1.75" fill="#000"/>
<circle cx="64.60" cy="606.10" r="1.75" fill="#000"/>
<circle cx="75.80" cy="603.10" r="1.75" fill="#000"/>
<circle cx="87.10" cy="601.30" r="1.75" fill="#000"/>
<circle cx="98.20" cy="588.20" r="1.75" fill="#000"/>
<circle cx="109.50" cy="614.00" r="1.75" fill="#000"/>
<circle cx="120.70" cy="616.70" r="1.75" fill="#000"/>
<circle cx="131.80" cy="537.40" r="1.75" fill="#000"/>
<circle cx="143.10" cy="511.40" r="1.75" fill="#000"/>
<circle cx="154.40" cy="477.70" r="1.75" fill="#000"/>
<circle cx="165.50" cy="464.00" r="1.75" fill="#000"/>
<circle cx="176.60" cy="495.90" r="1.75" fill="#000"/>
<circle cx="187.90" cy="468.70" r="1.75" fill="#000"/>
<circle cx="199.00" cy="493.80" r="1.75" fill="#000"/>
<circle cx="210.30" cy="486.80" r="1.75" fill="#000"/>
<path d="M279.40,581.90 L290.60,611.20 L302.00,576.00 L313.30,545.10 L324.50,571.40 L335.90,551.80 L347.10,534.40 L358.50,509.40 L369.90,511.80 L381.10,507.40 L392.30,467.50 L403.70,462.00 L415.10,464.90 L426.40,464.30 L437.60,483.90" fill="none" stroke="#1f77b4" stroke-width="1.35" stroke-linejoin="round"/>
<circle cx="279.40" cy="581.90" r="1.75" fill="#000"/>
<circle cx="290.60" cy="611.20" r="1.75" fill="#000"/>
<circle cx="302.00" cy="576.00" r="1.75" fill="#000"/>
<circle cx="313.30" cy="545.10" r="1.75" fill="#000"/>
<circle cx="324.50" cy="571.40" r="1.75" fill="#000"/>
<circle cx="335.90" cy="551.80" r="1.75" fill="#000"/>
<circle cx="347.10" cy="534.40" r="1.75" fill="#000"/>
<circle cx="358.50" cy="509.40" r="1.75" fill="#000"/>
<circle cx="369.90" cy="511.80" r="1.75" fill="#000"/>
<circle cx="381.10" cy="507.40" r="1.75" fill="#000"/>
<circle cx="392.30" cy="467.50" r="1.75" fill="#000"/>
<circle cx="403.70" cy="462.00" r="1.75" fill="#000"/>
<circle cx="415.10" cy="464.90" r="1.75" fill="#000"/>
<circle cx="426.40" cy="464.30" r="1.75" fill="#000"/>
<circle cx="437.60" cy="483.90" r="1.75" fill="#000"/>
<path d="M505.40,470.50 L516.80,462.10 L528.10,497.40 L539.50,530.40 L551.00,507.30 L562.40,527.10 L573.80,544.60 L585.00,564.70 L596.40,563.20 L607.80,566.60 L619.10,591.80 L630.50,602.70 L641.90,612.80 L653.30,614.90 L664.60,609.40" fill="none" stroke="#1f77b4" stroke-width="1.35" stroke-linejoin="round"/>
<circle cx="505.40" cy="470.50" r="1.75" fill="#000"/>
<circle cx="516.80" cy="462.10" r="1.75" fill="#000"/>
<circle cx="528.10" cy="497.40" r="1.75" fill="#000"/>
<circle cx="539.50" cy="530.40" r="1.75" fill="#000"/>
<circle cx="551.00" cy="507.30" r="1.75" fill="#000"/>
<circle cx="562.40" cy="527.10" r="1.75" fill="#000"/>
<circle cx="573.80" cy="544.60" r="1.75" fill="#000"/>
<circle cx="585.00" cy="564.70" r="1.75" fill="#000"/>
<circle cx="596.40" cy="563.20" r="1.75" fill="#000"/>
<circle cx="607.80" cy="566.60" r="1.75" fill="#000"/>
<circle cx="619.10" cy="591.80" r="1.75" fill="#000"/>
<circle cx="630.50" cy="602.70" r="1.75" fill="#000"/>
<circle cx="641.90" cy="612.80" r="1.75" fill="#000"/>
<circle cx="653.30" cy="614.90" r="1.75" fill="#000"/>
<circle cx="664.60" cy="609.40" r="1.75" fill="#000"/>
<rect x="45.5" y="456.5" width="173" height="168" fill="none" stroke="#6e6e6e" stroke-width="1"/>
<rect x="271.5" y="454.5" width="174" height="169" fill="none" stroke="#6e6e6e" stroke-width="1"/>
<rect x="497.5" y="454.5" width="175" height="170" fill="none" stroke="#6e6e6e" stroke-width="1"/>
<rect x="125.5" y="128.5" width="87" height="56" rx="2.5" fill="#ffffff" fill-opacity="0.8" stroke="#d9d9d9" stroke-width="1"/>
<line x1="130.2" y1="137.8" x2="155.8" y2="137.8" stroke="#0000ff" stroke-width="1.3" stroke-opacity="0.67"/>
<text x="165.30" y="142.30" font-size="12.5" text-anchor="start" fill="#262626" >T = 0h</text>
<line x1="130.2" y1="155.4" x2="155.8" y2="155.4" stroke="#ffa500" stroke-width="1.3" stroke-opacity="0.67"/>
<text x="165.30" y="159.90" font-size="12.5" text-anchor="start" fill="#262626" >T = 7h</text>
<line x1="130.2" y1="172.7" x2="155.8" y2="172.7" stroke="#008000" stroke-width="1.3" stroke-opacity="0.67"/>
<text x="165.30" y="177.20" font-size="12.5" text-anchor="start" fill="#262626" >T = 14h</text>
<rect x="351.5" y="128.5" width="87" height="56" rx="2.5" fill="#ffffff" fill-opacity="0.8" stroke="#d9d9d9" stroke-width="1"/>
<line x1="356.4" y1="137.6" x2="381.8" y2="137.6" stroke="#0000ff" stroke-width="1.3" stroke-opacity="0.67"/>
<text x="391.50" y="142.10" font-size="12.5" text-anchor="start" fill="#262626" >T = 0h</text>
<line x1="356.4" y1="155.3" x2="381.8" y2="155.3" stroke="#ffa500" stroke-width="1.3" stroke-opacity="0.67"/>
<text x="391.50" y="159.80" font-size="12.5" text-anchor="start" fill="#262626" >T = 7h</text>
<line x1="356.4" y1="172.8" x2="381.8" y2="172.8" stroke="#008000" stroke-width="1.3" stroke-opacity="0.67"/>
<text x="391.50" y="177.30" font-size="12.5" text-anchor="start" fill="#262626" >T = 14h</text>
<rect x="578.5" y="127.5" width="87" height="56" rx="2.5" fill="#ffffff" fill-opacity="0.8" stroke="#d9d9d9" stroke-width="1"/>
<line x1="583" y1="136.9" x2="608.5" y2="136.9" stroke="#0000ff" stroke-width="1.3" stroke-opacity="0.67"/>
<text x="618.20" y="141.40" font-size="12.5" text-anchor="start" fill="#262626" >T = 0h</text>
<line x1="583" y1="154.5" x2="608.5" y2="154.5" stroke="#ffa500" stroke-width="1.3" stroke-opacity="0.67"/>
<text x="618.20" y="159.00" font-size="12.5" text-anchor="start" fill="#262626" >T = 7h</text>
<line x1="583" y1="171.8" x2="608.5" y2="171.8" stroke="#008000" stroke-width="1.3" stroke-opacity="0.67"/>
<text x="618.20" y="176.30" font-size="12.5" text-anchor="start" fill="#262626" >T = 14h</text>
<rect x="125.5" y="342.5" width="87" height="55" rx="2.5" fill="#ffffff" fill-opacity="0.8" stroke="#d9d9d9" stroke-width="1"/>
<line x1="130" y1="351.5" x2="155.6" y2="351.5" stroke="#0000ff" stroke-width="1.3" stroke-opacity="0.67"/>
<text x="165.20" y="356.00" font-size="12.5" text-anchor="start" fill="#262626" >T = 0h</text>
<line x1="130" y1="368.9" x2="155.6" y2="368.9" stroke="#ffa500" stroke-width="1.3" stroke-opacity="0.67"/>
<text x="165.20" y="373.40" font-size="12.5" text-anchor="start" fill="#262626" >T = 7h</text>
<line x1="130" y1="386.4" x2="155.6" y2="386.4" stroke="#008000" stroke-width="1.3" stroke-opacity="0.67"/>
<text x="165.20" y="390.90" font-size="12.5" text-anchor="start" fill="#262626" >T = 14h</text>
<rect x="366.5" y="351.5" width="74" height="48" rx="2.5" fill="#ffffff" fill-opacity="0.8" stroke="#d9d9d9" stroke-width="1"/>
<line x1="370" y1="359.8" x2="392" y2="359.8" stroke="#0000ff" stroke-width="1.3" stroke-opacity="0.67"/>
<text x="400.20" y="363.62" font-size="10.6" text-anchor="start" fill="#262626" >T = 0h</text>
<line x1="370" y1="374.7" x2="392" y2="374.7" stroke="#ffa500" stroke-width="1.3" stroke-opacity="0.67"/>
<text x="400.20" y="378.52" font-size="10.6" text-anchor="start" fill="#262626" >T = 7h</text>
<line x1="370" y1="389.6" x2="392" y2="389.6" stroke="#008000" stroke-width="1.3" stroke-opacity="0.67"/>
<text x="400.20" y="393.42" font-size="10.6" text-anchor="start" fill="#262626" >T = 14h</text>
<rect x="579.5" y="341.5" width="86" height="56" rx="2.5" fill="#ffffff" fill-opacity="0.8" stroke="#d9d9d9" stroke-width="1"/>
<line x1="584" y1="350.6" x2="609" y2="350.6" stroke="#0000ff" stroke-width="1.3" stroke-opacity="0.67"/>
<text x="618.70" y="355.10" font-size="12.5" text-anchor="start" fill="#262626" >T = 0h</text>
<line x1="584" y1="368.1" x2="609" y2="368.1" stroke="#ffa500" stroke-width="1.3" stroke-opacity="0.67"/>
<text x="618.70" y="372.60" font-size="12.5" text-anchor="start" fill="#262626" >T = 7h</text>
<line x1="584" y1="385.6" x2="609" y2="385.6" stroke="#008000" stroke-width="1.3" stroke-opacity="0.67"/>
<text x="618.70" y="390.10" font-size="12.5" text-anchor="start" fill="#262626" >T = 14h</text>
<text x="41.40" y="27.80" font-size="12.3" text-anchor="end" fill="#262626" >1.0</text>
<text x="41.40" y="91.90" font-size="12.3" text-anchor="end" fill="#262626" >0.7</text>
<text x="41.40" y="156.40" font-size="12.3" text-anchor="end" fill="#262626" >0.4</text>
<text x="54.30" y="203.60" font-size="12.3" text-anchor="middle" fill="#262626" >0.01</text>
<text x="108.80" y="203.60" font-size="12.3" text-anchor="middle" fill="#262626" >0.02</text>
<text x="163.30" y="203.60" font-size="12.3" text-anchor="middle" fill="#262626" >0.03</text>
<text x="217.80" y="203.60" font-size="12.3" text-anchor="middle" fill="#262626" >0.04</text>
<text x="267.40" y="28.00" font-size="12.3" text-anchor="end" fill="#262626" >1.0</text>
<text x="267.40" y="111.20" font-size="12.3" text-anchor="end" fill="#262626" >0.5</text>
<text x="267.40" y="194.60" font-size="12.3" text-anchor="end" fill="#262626" >0.0</text>
<text x="295.20" y="203.60" font-size="12.3" text-anchor="middle" fill="#262626" >0.10</text>
<text x="369.80" y="203.60" font-size="12.3" text-anchor="middle" fill="#262626" >0.15</text>
<text x="444.30" y="203.60" font-size="12.3" text-anchor="middle" fill="#262626" >0.20</text>
<text x="494.40" y="31.30" font-size="12.3" text-anchor="end" fill="#262626" >1.0</text>
<text x="494.40" y="112.50" font-size="12.3" text-anchor="end" fill="#262626" >0.8</text>
<text x="494.40" y="194.00" font-size="12.3" text-anchor="end" fill="#262626" >0.6</text>
<text x="503.40" y="202.60" font-size="12.3" text-anchor="middle" fill="#262626" >0.01</text>
<text x="586.80" y="202.60" font-size="12.3" text-anchor="middle" fill="#262626" >0.08</text>
<text x="670.20" y="202.60" font-size="12.3" text-anchor="middle" fill="#262626" >0.15</text>
<text x="41.40" y="241.20" font-size="12.3" text-anchor="end" fill="#262626" >1.0</text>
<text x="41.40" y="325.00" font-size="12.3" text-anchor="end" fill="#262626" >0.5</text>
<text x="41.40" y="408.80" font-size="12.3" text-anchor="end" fill="#262626" >0.0</text>
<text x="46.50" y="417.60" font-size="12.3" text-anchor="middle" fill="#262626" >0.00</text>
<text x="132.30" y="417.60" font-size="12.3" text-anchor="middle" fill="#262626" >0.04</text>
<text x="218.30" y="417.60" font-size="12.3" text-anchor="middle" fill="#262626" >0.08</text>
<text x="267.40" y="241.00" font-size="12.3" text-anchor="end" fill="#262626" >1.0</text>
<text x="267.40" y="325.00" font-size="12.3" text-anchor="end" fill="#262626" >0.5</text>
<text x="267.40" y="408.90" font-size="12.3" text-anchor="end" fill="#262626" >0.0</text>
<text x="272.30" y="417.60" font-size="12.3" text-anchor="middle" fill="#262626" >0.06</text>
<text x="354.10" y="417.60" font-size="12.3" text-anchor="middle" fill="#262626" >0.15</text>
<text x="436.00" y="417.60" font-size="12.3" text-anchor="middle" fill="#262626" >0.24</text>
<text x="494.40" y="240.90" font-size="12.3" text-anchor="end" fill="#262626" >1.0</text>
<text x="494.40" y="324.40" font-size="12.3" text-anchor="end" fill="#262626" >0.8</text>
<text x="494.40" y="407.90" font-size="12.3" text-anchor="end" fill="#262626" >0.6</text>
<text x="502.30" y="416.60" font-size="12.3" text-anchor="middle" fill="#262626" >0.02</text>
<text x="586.90" y="416.60" font-size="12.3" text-anchor="middle" fill="#262626" >0.10</text>
<text x="671.60" y="416.60" font-size="12.3" text-anchor="middle" fill="#262626" >0.18</text>
<text x="132.50" y="222.00" font-size="18.5" text-anchor="middle" fill="#262626" >Degree Centrality</text>
<text x="358.50" y="222.00" font-size="18.5" text-anchor="middle" fill="#262626" >Closeness Centrality</text>
<text x="585.50" y="221.00" font-size="18.5" text-anchor="middle" fill="#262626" >Betweenness Centrality</text>
<text x="132.50" y="436.00" font-size="18.5" text-anchor="middle" fill="#262626" >Degree Centrality</text>
<text x="359.00" y="436.00" font-size="18.5" text-anchor="middle" fill="#262626" >Closeness Centrality</text>
<text x="586.00" y="435.00" font-size="18.5" text-anchor="middle" fill="#262626" >Betweenness Centrality</text>
<text transform="translate(19.40,108.00) rotate(-90)" font-size="18.5" text-anchor="middle" fill="#262626">Probability</text>
<text transform="translate(245.40,108.00) rotate(-90)" font-size="18.5" text-anchor="middle" fill="#262626">Probability</text>
<text transform="translate(472.40,107.00) rotate(-90)" font-size="18.5" text-anchor="middle" fill="#262626">Probability</text>
<text transform="translate(19.40,321.50) rotate(-90)" font-size="18.5" text-anchor="middle" fill="#262626">Probability</text>
<text transform="translate(245.40,321.50) rotate(-90)" font-size="18.5" text-anchor="middle" fill="#262626">Probability</text>
<text transform="translate(472.40,321.00) rotate(-90)" font-size="18.5" text-anchor="middle" fill="#262626">Probability</text>
<line x1="43.5" y1="467.3" x2="45" y2="467.3" stroke="#333" stroke-width="0.8"/>
<text x="41.40" y="469.90" font-size="7.4" text-anchor="end" fill="#1a1a1a" textLength="19.8" lengthAdjust="spacingAndGlyphs">0.016</text>
<line x1="43.5" y1="528.3" x2="45" y2="528.3" stroke="#333" stroke-width="0.8"/>
<text x="41.40" y="530.90" font-size="7.4" text-anchor="end" fill="#1a1a1a" textLength="19.8" lengthAdjust="spacingAndGlyphs">0.015</text>
<line x1="43.5" y1="589.4" x2="45" y2="589.4" stroke="#333" stroke-width="0.8"/>
<text x="41.40" y="592.00" font-size="7.4" text-anchor="end" fill="#1a1a1a" textLength="19.8" lengthAdjust="spacingAndGlyphs">0.014</text>
<line x1="53.5" y1="625" x2="53.5" y2="626.3" stroke="#333" stroke-width="0.8"/>
<text x="53.50" y="633.70" font-size="7.4" text-anchor="middle" fill="#1a1a1a" textLength="4.4" lengthAdjust="spacingAndGlyphs">0</text>
<line x1="75.9" y1="625" x2="75.9" y2="626.3" stroke="#333" stroke-width="0.8"/>
<text x="75.90" y="633.70" font-size="7.4" text-anchor="middle" fill="#1a1a1a" textLength="4.4" lengthAdjust="spacingAndGlyphs">2</text>
<line x1="98.3" y1="625" x2="98.3" y2="626.3" stroke="#333" stroke-width="0.8"/>
<text x="98.30" y="633.70" font-size="7.4" text-anchor="middle" fill="#1a1a1a" textLength="4.4" lengthAdjust="spacingAndGlyphs">4</text>
<line x1="120.7" y1="625" x2="120.7" y2="626.3" stroke="#333" stroke-width="0.8"/>
<text x="120.70" y="633.70" font-size="7.4" text-anchor="middle" fill="#1a1a1a" textLength="4.4" lengthAdjust="spacingAndGlyphs">6</text>
<line x1="143.1" y1="625" x2="143.1" y2="626.3" stroke="#333" stroke-width="0.8"/>
<text x="143.10" y="633.70" font-size="7.4" text-anchor="middle" fill="#1a1a1a" textLength="4.4" lengthAdjust="spacingAndGlyphs">8</text>
<line x1="165.5" y1="625" x2="165.5" y2="626.3" stroke="#333" stroke-width="0.8"/>
<text x="165.50" y="633.70" font-size="7.4" text-anchor="middle" fill="#1a1a1a" textLength="8.8" lengthAdjust="spacingAndGlyphs">10</text>
<line x1="187.9" y1="625" x2="187.9" y2="626.3" stroke="#333" stroke-width="0.8"/>
<text x="187.90" y="633.70" font-size="7.4" text-anchor="middle" fill="#1a1a1a" textLength="8.8" lengthAdjust="spacingAndGlyphs">12</text>
<line x1="210.3" y1="625" x2="210.3" y2="626.3" stroke="#333" stroke-width="0.8"/>
<text x="210.30" y="633.70" font-size="7.4" text-anchor="middle" fill="#1a1a1a" textLength="8.8" lengthAdjust="spacingAndGlyphs">14</text>
<line x1="269.5" y1="465.3" x2="271" y2="465.3" stroke="#333" stroke-width="0.8"/>
<text x="267.40" y="467.90" font-size="7.4" text-anchor="end" fill="#1a1a1a" textLength="19.8" lengthAdjust="spacingAndGlyphs">0.150</text>
<line x1="269.5" y1="544.3" x2="271" y2="544.3" stroke="#333" stroke-width="0.8"/>
<text x="267.40" y="546.90" font-size="7.4" text-anchor="end" fill="#1a1a1a" textLength="19.8" lengthAdjust="spacingAndGlyphs">0.135</text>
<line x1="269.5" y1="623.3" x2="271" y2="623.3" stroke="#333" stroke-width="0.8"/>
<text x="267.40" y="625.90" font-size="7.4" text-anchor="end" fill="#1a1a1a" textLength="19.8" lengthAdjust="spacingAndGlyphs">0.120</text>
<line x1="279.4" y1="624" x2="279.4" y2="625.3" stroke="#333" stroke-width="0.8"/>
<text x="279.40" y="632.70" font-size="7.4" text-anchor="middle" fill="#1a1a1a" textLength="4.4" lengthAdjust="spacingAndGlyphs">0</text>
<line x1="302.0" y1="624" x2="302.0" y2="625.3" stroke="#333" stroke-width="0.8"/>
<text x="302.00" y="632.70" font-size="7.4" text-anchor="middle" fill="#1a1a1a" textLength="4.4" lengthAdjust="spacingAndGlyphs">2</text>
<line x1="324.6" y1="624" x2="324.6" y2="625.3" stroke="#333" stroke-width="0.8"/>
<text x="324.60" y="632.70" font-size="7.4" text-anchor="middle" fill="#1a1a1a" textLength="4.4" lengthAdjust="spacingAndGlyphs">4</text>
<line x1="347.2" y1="624" x2="347.2" y2="625.3" stroke="#333" stroke-width="0.8"/>
<text x="347.20" y="632.70" font-size="7.4" text-anchor="middle" fill="#1a1a1a" textLength="4.4" lengthAdjust="spacingAndGlyphs">6</text>
<line x1="369.8" y1="624" x2="369.8" y2="625.3" stroke="#333" stroke-width="0.8"/>
<text x="369.80" y="632.70" font-size="7.4" text-anchor="middle" fill="#1a1a1a" textLength="4.4" lengthAdjust="spacingAndGlyphs">8</text>
<line x1="392.4" y1="624" x2="392.4" y2="625.3" stroke="#333" stroke-width="0.8"/>
<text x="392.40" y="632.70" font-size="7.4" text-anchor="middle" fill="#1a1a1a" textLength="8.8" lengthAdjust="spacingAndGlyphs">10</text>
<line x1="415.0" y1="624" x2="415.0" y2="625.3" stroke="#333" stroke-width="0.8"/>
<text x="415.00" y="632.70" font-size="7.4" text-anchor="middle" fill="#1a1a1a" textLength="8.8" lengthAdjust="spacingAndGlyphs">12</text>
<line x1="437.6" y1="624" x2="437.6" y2="625.3" stroke="#333" stroke-width="0.8"/>
<text x="437.60" y="632.70" font-size="7.4" text-anchor="middle" fill="#1a1a1a" textLength="8.8" lengthAdjust="spacingAndGlyphs">14</text>
<line x1="495.5" y1="471.4" x2="497" y2="471.4" stroke="#333" stroke-width="0.8"/>
<text x="493.40" y="474.00" font-size="7.4" text-anchor="end" fill="#1a1a1a" textLength="19.8" lengthAdjust="spacingAndGlyphs">0.011</text>
<line x1="495.5" y1="548.3" x2="497" y2="548.3" stroke="#333" stroke-width="0.8"/>
<text x="493.40" y="550.90" font-size="7.4" text-anchor="end" fill="#1a1a1a" textLength="19.8" lengthAdjust="spacingAndGlyphs">0.009</text>
<line x1="495.5" y1="624.5" x2="497" y2="624.5" stroke="#333" stroke-width="0.8"/>
<text x="493.40" y="627.10" font-size="7.4" text-anchor="end" fill="#1a1a1a" textLength="19.8" lengthAdjust="spacingAndGlyphs">0.007</text>
<line x1="505.4" y1="625" x2="505.4" y2="626.3" stroke="#333" stroke-width="0.8"/>
<text x="505.40" y="633.70" font-size="7.4" text-anchor="middle" fill="#1a1a1a" textLength="4.4" lengthAdjust="spacingAndGlyphs">0</text>
<line x1="528.14" y1="625" x2="528.14" y2="626.3" stroke="#333" stroke-width="0.8"/>
<text x="528.14" y="633.70" font-size="7.4" text-anchor="middle" fill="#1a1a1a" textLength="4.4" lengthAdjust="spacingAndGlyphs">2</text>
<line x1="550.88" y1="625" x2="550.88" y2="626.3" stroke="#333" stroke-width="0.8"/>
<text x="550.88" y="633.70" font-size="7.4" text-anchor="middle" fill="#1a1a1a" textLength="4.4" lengthAdjust="spacingAndGlyphs">4</text>
<line x1="573.62" y1="625" x2="573.62" y2="626.3" stroke="#333" stroke-width="0.8"/>
<text x="573.62" y="633.70" font-size="7.4" text-anchor="middle" fill="#1a1a1a" textLength="4.4" lengthAdjust="spacingAndGlyphs">6</text>
<line x1="596.36" y1="625" x2="596.36" y2="626.3" stroke="#333" stroke-width="0.8"/>
<text x="596.36" y="633.70" font-size="7.4" text-anchor="middle" fill="#1a1a1a" textLength="4.4" lengthAdjust="spacingAndGlyphs">8</text>
<line x1="619.1" y1="625" x2="619.1" y2="626.3" stroke="#333" stroke-width="0.8"/>
<text x="619.10" y="633.70" font-size="7.4" text-anchor="middle" fill="#1a1a1a" textLength="8.8" lengthAdjust="spacingAndGlyphs">10</text>
<line x1="641.84" y1="625" x2="641.84" y2="626.3" stroke="#333" stroke-width="0.8"/>
<text x="641.84" y="633.70" font-size="7.4" text-anchor="middle" fill="#1a1a1a" textLength="8.8" lengthAdjust="spacingAndGlyphs">12</text>
<line x1="664.58" y1="625" x2="664.58" y2="626.3" stroke="#333" stroke-width="0.8"/>
<text x="664.58" y="633.70" font-size="7.4" text-anchor="middle" fill="#1a1a1a" textLength="8.8" lengthAdjust="spacingAndGlyphs">14</text>
<text transform="translate(14.60,540.00) rotate(-90)" font-size="18.6" text-anchor="middle" fill="#000">Average DC</text>
<text x="132.00" y="649.90" font-size="18.6" text-anchor="middle" fill="#000" >Time [hr]</text>
<text transform="translate(240.60,538.50) rotate(-90)" font-size="18.6" text-anchor="middle" fill="#000">Average CC</text>
<text x="358.50" y="649.90" font-size="18.6" text-anchor="middle" fill="#000" >Time [hr]</text>
<text transform="translate(466.60,539.00) rotate(-90)" font-size="18.6" text-anchor="middle" fill="#000">Average BC</text>
<text x="585.00" y="649.90" font-size="18.6" text-anchor="middle" fill="#000" >Time [hr]</text>
<text transform="translate(6.0,18.6) scale(0.85,1)" font-size="24" fill="#000">a</text>
<text transform="translate(237.5,18.6) scale(1,1)" font-size="24" fill="#000">b</text>
<text transform="translate(464.2,18.6) scale(0.9,1)" font-size="24" fill="#000">c</text>
<text transform="translate(5.6,232.2) scale(1,1)" font-size="24" fill="#000">d</text>
<text transform="translate(237.2,232.4) scale(1,1)" font-size="24" fill="#000">e</text>
<text transform="translate(466.0,232.1) scale(1,1)" font-size="24" fill="#000">f</text>
<text transform="translate(1.2,456.3) scale(1,1)" font-size="24" fill="#000">g</text>
<text transform="translate(237.8,456.2) scale(1,1)" font-size="24" fill="#000">h</text>
<text transform="translate(467.6,456.2) scale(1,1)" font-size="24" fill="#000">i</text>
</g></svg>
</body></html>
